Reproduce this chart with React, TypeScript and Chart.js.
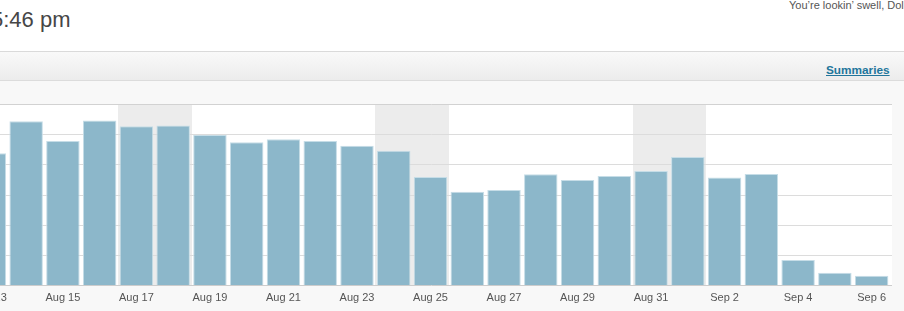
import React, { useEffect, useRef } from 'react';
import { Chart, registerables } from 'chart.js';

Chart.register(...registerables);

// ---- data ----
const days: string[] = [
  'Aug 13', 'Aug 14', 'Aug 15', 'Aug 16', 'Aug 17', 'Aug 18', 'Aug 19', 'Aug 20',
  'Aug 21', 'Aug 22', 'Aug 23', 'Aug 24', 'Aug 25', 'Aug 26', 'Aug 27', 'Aug 28',
  'Aug 29', 'Aug 30', 'Aug 31', 'Sep 1', 'Sep 2', 'Sep 3', 'Sep 4', 'Sep 5', 'Sep 6',
];
const views: number[] = [
  437, 543, 477, 545, 526, 529, 497, 473, 483, 477, 462, 445, 358,
  309, 315, 367, 348, 361, 378, 424, 356, 368, 83, 41, 31,
];
const weekendDays: string[] = ['Aug 17', 'Aug 18', 'Aug 24', 'Aug 25', 'Aug 31', 'Sep 1'];
const yMax = 600;
const yStep = 100;

const FONT = 'Arial, "Liberation Sans", Helvetica, sans-serif';

const backdrop = {
  id: 'backdrop',
  beforeDraw(chart: any) {
    const { ctx, chartArea: a, scales } = chart;
    const x = scales.x;
    const y = scales.y;
    const right = chart.width - 1;
    ctx.save();
    // white plot area
    ctx.fillStyle = '#ffffff';
    ctx.fillRect(a.left, a.top, right - a.left, a.bottom - a.top);
    // weekend bands (pixel-snapped so adjacent days join seamlessly)
    const half = (x.getPixelForValue(1) - x.getPixelForValue(0)) / 2;
    ctx.fillStyle = '#ececec';
    weekendDays.forEach((d) => {
      const i = days.indexOf(d);
      if (i < 0) return;
      const c = x.getPixelForValue(i);
      const l = Math.round(c - half);
      const r = Math.round(c + half);
      ctx.fillRect(l, a.top, r - l, a.bottom - a.top);
    });
    // horizontal grid lines
    const values: number[] = (y.ticks && y.ticks.length)
      ? y.ticks.map((t: any) => t.value)
      : [];
    ctx.lineWidth = 1;
    values.forEach((v) => {
      if (v === 0) return;
      const py = Math.round(y.getPixelForValue(v)) + 0.5;
      ctx.strokeStyle = v === yMax ? '#d2d2d2' : '#dcdcdc';
      ctx.beginPath();
      ctx.moveTo(a.left, py);
      ctx.lineTo(right, py);
      ctx.stroke();
    });
    ctx.restore();
  },
  afterDatasetsDraw(chart: any) {
    const { ctx, chartArea: a, scales } = chart;
    const y = scales.y;
    const right = chart.width - 1;
    const py = Math.round(y.getPixelForValue(0)) + 0.5;
    ctx.save();
    ctx.strokeStyle = '#cccccc';
    ctx.lineWidth = 1;
    ctx.beginPath();
    ctx.moveTo(a.left, py);
    ctx.lineTo(right, py);
    ctx.stroke();
    ctx.restore();
  },
};

function StatsChart() {
  const ref = useRef<HTMLCanvasElement | null>(null);
  useEffect(() => {
    if (!ref.current) return;
    const chart = new Chart(ref.current, {
      type: 'bar',
      data: {
        labels: days,
        datasets: [
          {
            data: views,
            backgroundColor: '#8cb7ca',
            borderColor: '#c6dde7',
            borderWidth: { top: 1, left: 1, right: 1, bottom: 0 },
            borderSkipped: false,
            barPercentage: 0.91,
            categoryPercentage: 1,
          },
        ],
      },
      options: {
        animation: false,
        responsive: false,
        maintainAspectRatio: false,
        events: [],
        layout: { padding: { left: 0, right: 3, top: 4, bottom: 1 } },
        plugins: { legend: { display: false }, tooltip: { enabled: false } },
        scales: {
          x: {
            grid: { display: false, drawTicks: false, tickLength: 0 },
            border: { display: false },
            ticks: {
              autoSkip: false,
              maxRotation: 0,
              minRotation: 0,
              padding: 0,
              color: '#555555',
              font: { family: FONT, size: 11, lineHeight: '25px' },
              callback: (_v: any, i: number) => (i % 2 === 0 ? days[i] : ''),
            },
          },
          y: {
            display: false,
            min: 0,
            max: yMax,
            ticks: { stepSize: yStep },
          },
        },
      },
      plugins: [backdrop],
    });
    return () => chart.destroy();
  }, []);
  return (
    <canvas
      ref={ref}
      width={922}
      height={211}
      style={{ position: 'absolute', left: -29, top: 100, width: 922, height: 211 }}
    />
  );
}

export default function App() {
  return (
    <div
      style={{
        position: 'absolute',
        left: 0,
        top: 0,
        width: 904,
        height: 311,
        overflow: 'hidden',
        background: '#ffffff',
        fontFamily: FONT,
      }}
    >
      <div
        style={{
          position: 'absolute',
          left: -9,
          top: 9,
          fontSize: 22,
          lineHeight: '22px',
          color: '#464646',
          whiteSpace: 'nowrap',
        }}
      >
        5:46 pm
      </div>
      <div
        style={{
          position: 'absolute',
          left: 789,
          top: 0,
          fontSize: 11,
          lineHeight: '11px',
          color: '#555555',
          whiteSpace: 'nowrap',
        }}
      >
        You’re lookin’ swell, Dolly!
      </div>
      <div style={{ position: 'absolute', left: 0, top: 51, width: 904, height: 1, background: '#dadada' }} />
      <div
        style={{
          position: 'absolute',
          left: 0,
          top: 52,
          width: 904,
          height: 28,
          background: 'linear-gradient(#f9f9f9, #ececec)',
        }}
      />
      <div style={{ position: 'absolute', left: 0, top: 80, width: 904, height: 1, background: '#dcdcdc' }} />
      <div style={{ position: 'absolute', left: 0, top: 81, width: 904, height: 230, background: '#f8f8f8' }} />
      <a
        href="#"
        style={{
          position: 'absolute',
          left: 826,
          top: 64,
          fontSize: 11.8,
          lineHeight: '12px',
          fontWeight: 'bold',
          color: '#21759b',
          textDecoration: 'underline',
          whiteSpace: 'nowrap',
        }}
      >
        Summaries
      </a>
      <StatsChart />
    </div>
  );
}
